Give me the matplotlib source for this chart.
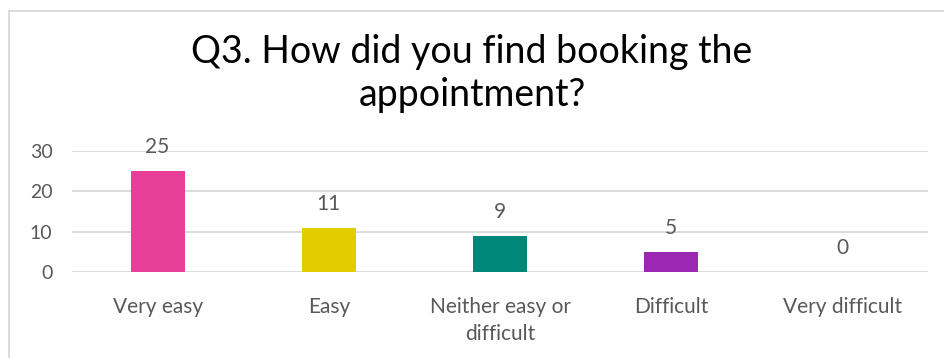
import matplotlib

matplotlib.use("Agg")
import matplotlib.pyplot as plt
from matplotlib.lines import Line2D

categories = ["Very easy", "Easy", "Neither easy or\ndifficult", "Difficult", "Very difficult"]
counts = [25, 11, 9, 5, 0]
bar_colors = ["#E8409A", "#E2CE00", "#00877A", "#9C27B0", "#9C27B0"]
y_ticks = [0, 10, 20, 30]

TEXT = "#595959"
GRID = "#D9D9D9"
FS = 15

plt.rcParams["font.family"] = ["Lato", "DejaVu Sans"]

fig = plt.figure(figsize=(9.44, 3.58), dpi=100)
ax = fig.add_axes([72 / 944, 1 - 272 / 358, 856 / 944, 121 / 358])

x = range(len(categories))
bars = ax.bar(x, counts, width=0.315, color=bar_colors, zorder=3)

for rect, v in zip(bars, counts):
    ax.annotate(f"{v}", (rect.get_x() + rect.get_width() / 2, v),
                xytext=(0, 10), textcoords="offset points",
                ha="center", va="bottom", fontsize=FS, color=TEXT,
                annotation_clip=False)

ax.set_xlim(-0.5, len(categories) - 0.5)
ax.set_ylim(0, 30)
ax.set_yticks(y_ticks)
ax.set_xticks(list(x))
ax.set_xticklabels(categories, fontsize=FS, color=TEXT, linespacing=1.45)
ax.tick_params(axis="y", labelsize=14, labelcolor=TEXT, length=0, pad=14)
ax.tick_params(axis="x", length=0, pad=18)
ax.grid(axis="y", color=GRID, lw=1.3, zorder=0)
for s in ax.spines.values():
    s.set_visible(False)

fig.text(0.5, 1 - 34 / 358, "Q3. How did you find booking the\nappointment?",
         ha="center", va="top", fontsize=27, color="black",
         linespacing=1.25)

# chart frame (top and left edges)
fig.add_artist(Line2D([8.5 / 944, 1.0], [1 - 10.5 / 358] * 2,
                      transform=fig.transFigure, color=GRID, lw=1.3))
fig.add_artist(Line2D([8.5 / 944] * 2, [0, 1 - 10.5 / 358],
                      transform=fig.transFigure, color=GRID, lw=1.3))

fig.savefig("out.png", dpi=100)
